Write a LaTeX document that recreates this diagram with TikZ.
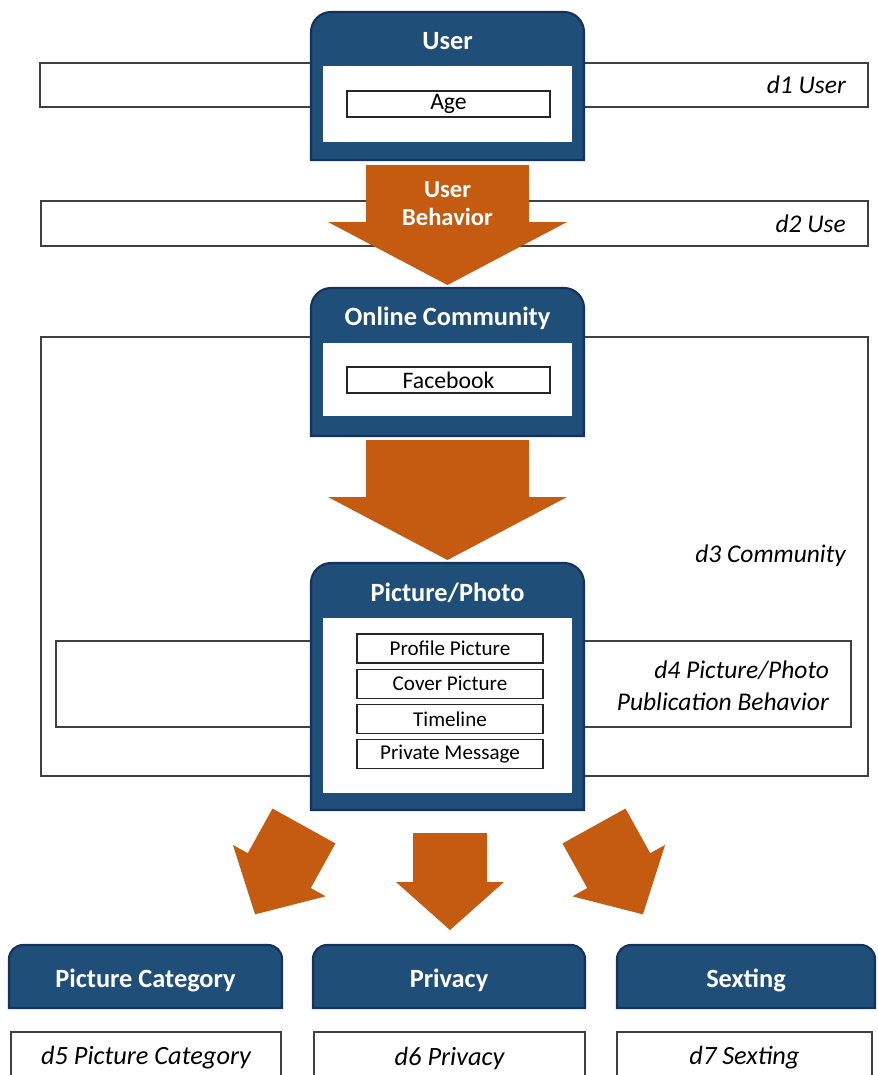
\documentclass[tikz,border=0pt]{standalone}
\usepackage{fontspec}
\setmainfont{Carlito}
\usetikzlibrary{positioning}

\definecolor{tabblue}{HTML}{1F4E79}
\definecolor{tabedge}{HTML}{14325C}
\definecolor{arroworange}{HTML}{C55A11}
\definecolor{bandgray}{HTML}{404040}

\tikzset{
  band/.style={draw=bandgray, line width=0.7pt, fill=white},
  tabshape/.style={fill=tabblue, draw=tabedge, line width=1.2pt},
  tabtitle/.style={text=white, font=\bfseries\fontsize{15}{18}\selectfont},
  itembox/.style={draw=black!85, line width=0.7pt, fill=white, inner sep=0pt,
    font=\fontsize{12}{14}\selectfont, minimum height=0.58cm, minimum width=3.72cm},
  dlabel/.style={font=\itshape\fontsize{14.5}{18}\selectfont, align=right, anchor=east},
  blabel/.style={font=\itshape\fontsize{15}{18}\selectfont},
  pics/blockarrow/.style n args={4}{code={
    \fill[arroworange] (-#1,0) -- (#1,0) -- (#1,-#2) -- (#3,-#2) -- (0,-#2-#4)
      -- (-#3,-#2) -- (-#1,-#2) -- cycle;}}
}

% left, right, top, bottom, corner radius
\newcommand{\drawtab}[5]{%
  \filldraw[tabshape] (#1,-#4) -- (#1,-#3-#5) arc[start angle=180,end angle=90,radius=#5]
    -- (#2-#5,-#3) arc[start angle=90,end angle=0,radius=#5] -- (#2,-#4) -- cycle;}

\begin{document}
\begin{tikzpicture}[x=0.02cm, y=0.02cm]
  \clip (0,0) rectangle (877,-1075);

  % dimension bands
  \draw[band] (40,-63) rectangle (868,-107);
  \draw[band] (41,-201) rectangle (868,-246);
  \draw[band] (41,-337) rectangle (868,-776);
  \draw[band] (56,-641) rectangle (851,-727);

  % user
  \drawtab{311}{584}{12}{160}{20}
  \fill[white] (323,-66) rectangle (572,-142);
  \node[tabtitle] (user) at (447.5,-41) {User};
  \node[itembox, minimum width=4.06cm, minimum height=0.52cm, font=\fontsize{13.5}{16}\selectfont] (age) at (448.5,-104) {Age};

  % online community
  \drawtab{311}{584}{288}{436}{20}
  \fill[white] (323,-343) rectangle (572,-416);
  \node[tabtitle] (comm) at (447.5,-318) {Online Community};
  \node[itembox, minimum width=4.06cm, minimum height=0.52cm, font=\fontsize{13.5}{16}\selectfont] (fb) at (448.5,-380) {Facebook};

  % picture/photo
  \drawtab{311}{584}{563}{810}{20}
  \fill[white] (323,-618) rectangle (572,-793);
  \node[tabtitle] (photo) at (447.5,-593) {Picture/Photo};
  \node[itembox] (profile) at (450,-648.5) {Profile Picture};
  \node[itembox, below=0.1cm of profile] (cover) {Cover Picture};
  \node[itembox, below=0.1cm of cover] (timeline) {Timeline};
  \node[itembox, below=0.1cm of timeline] (pm) {Private Message};

  % outcomes
  \drawtab{9}{282}{945}{1008}{14}
  \drawtab{313}{585}{945}{1008}{14}
  \drawtab{617}{875}{945}{1008}{14}
  \node[tabtitle] (cat) at (145.5,-980) {Picture Category};
  \node[tabtitle] (priv) at (449,-980) {Privacy};
  \node[tabtitle] (sext) at (746,-980) {Sexting};
  \draw[band] (11,-1032) rectangle (281,-1095);
  \draw[band] (314,-1032) rectangle (585,-1095);
  \draw[band] (617,-1032) rectangle (872,-1095);
  \node[blabel] (d5) at (146,-1058) {d5 Picture Category};
  \node[blabel] (d6) at (449.5,-1058) {d6 Privacy};
  \node[blabel] (d7) at (744.5,-1058) {d7 Sexting};

  % arrows
  \pic at (447.5,-165) {blockarrow={81.5}{57}{119.5}{63}};
  \node[text=white, align=center, font=\bfseries\fontsize{14}{16}\selectfont] (behav) at (447.5,-204) {User\\Behavior};
  \pic at (447.5,-440) {blockarrow={81.5}{57}{119.5}{63}};
  \pic at (450,-833) {blockarrow={37}{49}{54}{48}};
  \pic[rotate=-29] at (304,-826) {blockarrow={36}{51}{53}{50}};
  \pic[rotate=29] at (594,-826) {blockarrow={36}{51}{53}{50}};

  % dimension labels
  \node[dlabel] (d1) at (852,-85) {d1 User};
  \node[dlabel] (d2) at (852,-224) {d2 Use};
  \node[dlabel] (d3) at (852,-556) {d3 Community};
  \node[dlabel] (d4) at (835,-686) {d4 Picture/Photo\\Publication Behavior};
\end{tikzpicture}
\end{document}
